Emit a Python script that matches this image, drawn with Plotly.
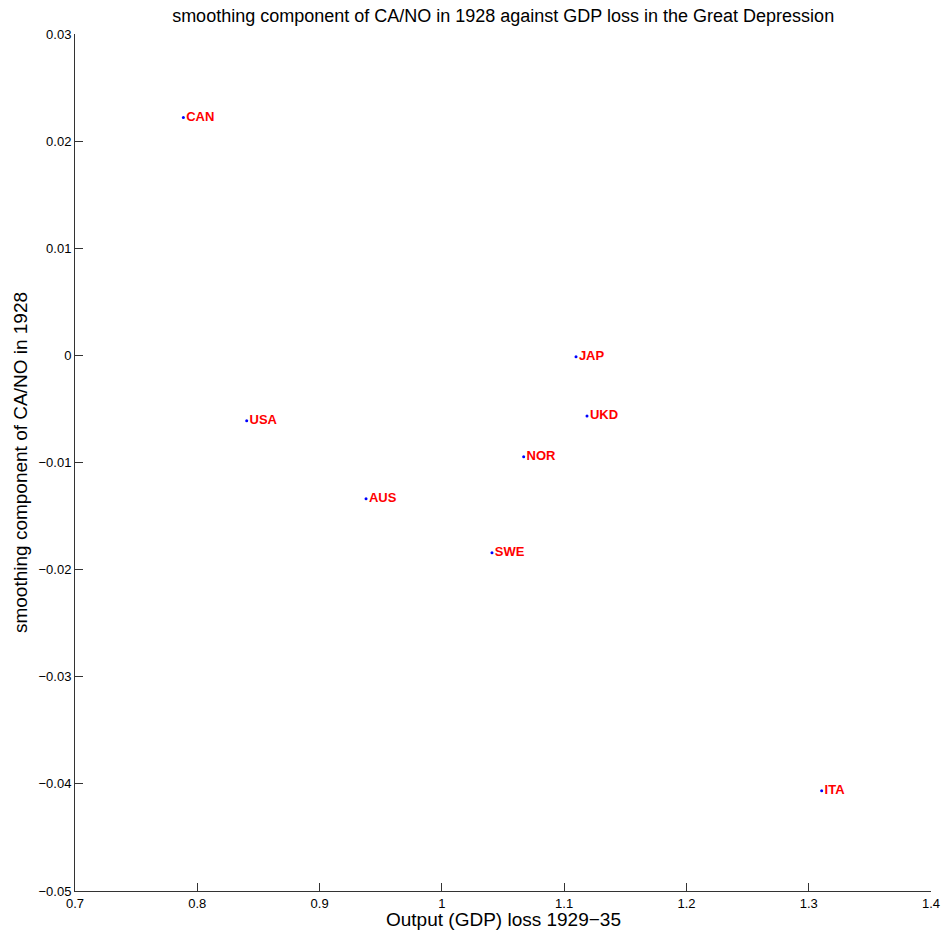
import plotly.graph_objects as go

countries = ["CAN", "USA", "AUS", "SWE", "NOR", "JAP", "UKD", "ITA"]
gdp_loss = [0.7886, 0.8404, 0.9380, 1.0410, 1.0669, 1.1097, 1.1187, 1.3106]
ca_no_1928 = [0.0222, -0.0061, -0.01338, -0.01842, -0.00946, -0.00012, -0.00566, -0.04064]

x_ticks = [0.7, 0.8, 0.9, 1.0, 1.1, 1.2, 1.3, 1.4]
x_tick_labels = ["0.7", "0.8", "0.9", "1", "1.1", "1.2", "1.3", "1.4"]
y_ticks = [0.03, 0.02, 0.01, 0, -0.01, -0.02, -0.03, -0.04, -0.05]
y_tick_labels = ["0.03", "0.02", "0.01", "0", "\u22120.01", "\u22120.02", "\u22120.03", "\u22120.04", "\u22120.05"]

FONT = "Liberation Sans, Arial, Helvetica, sans-serif"

fig = go.Figure()
fig.add_trace(go.Scatter(
    x=gdp_loss, y=ca_no_1928, mode="markers+text",
    text=countries, textposition="middle right",
    marker=dict(color="blue", size=3),
    textfont=dict(color="red", size=13, family=FONT, weight="bold"),
    showlegend=False, cliponaxis=False,
))

axis_common = dict(
    showgrid=False, zeroline=False, showline=True, linecolor="#333333", linewidth=1,
    ticks="inside", ticklen=8, tickcolor="#333333",
    tickfont=dict(size=13, color="black", family=FONT),
    mirror=False, automargin=False,
)

fig.update_layout(
    width=944, height=938,
    margin=dict(l=75, r=13, t=34, b=47),
    plot_bgcolor="white", paper_bgcolor="white",
    font=dict(family=FONT, color="black"),
    title=dict(text="smoothing component of CA/NO in 1928 against GDP loss in the Great Depression",
               x=0.533, xanchor="center", y=0.983, yanchor="middle",
               font=dict(size=18)),
    xaxis=dict(range=[0.7, 1.4], tickvals=x_ticks, ticktext=x_tick_labels, **axis_common),
    yaxis=dict(range=[-0.05, 0.03], tickvals=y_ticks, ticktext=y_tick_labels,
               title=dict(text="smoothing component of CA/NO in 1928", font=dict(size=19), standoff=5),
               **axis_common),
    annotations=[dict(text="Output (GDP) loss 1929\u221235", xref="paper", yref="paper",
                      x=0.5, y=-0.0327, xanchor="center", yanchor="middle", showarrow=False,
                      font=dict(size=19, family=FONT, color="black"))],
)

fig.write_html("out.html", config={"displayModeBar": False},
               post_script="document.body.style.margin='0px';")
